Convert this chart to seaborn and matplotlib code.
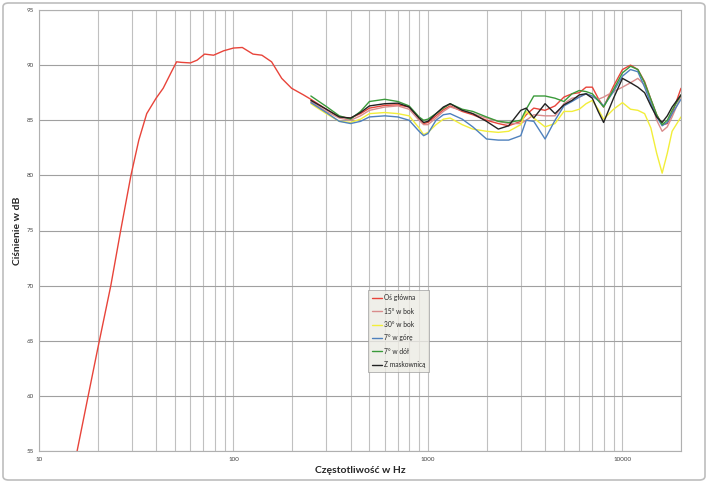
import numpy as np
import pandas as pd
import matplotlib.pyplot as plt
import seaborn as sns
from matplotlib.patches import FancyBboxPatch
from matplotlib.ticker import FixedLocator, NullFormatter

# --- dane ---
f_niskie = [15.7, 17.9, 20, 23.4, 26.3, 29.7, 32.6, 35.8, 40, 43.5, 48, 51, 54, 60, 65,
            71, 79, 89, 100, 111, 126, 140, 157, 177, 199, 229]
os_niskie = [55.0, 60.0, 64.2, 70.0, 75.0, 80.0, 83.2, 85.6, 87.0, 87.9, 89.4, 90.3, 90.25, 90.2, 90.45,
             91.0, 90.9, 91.3, 91.55, 91.6, 91.0, 90.9, 90.3, 88.8, 87.9, 87.3]

f_wspolne = [250, 300, 350, 400, 450, 500, 600, 700, 800, 900, 950, 1000, 1100, 1200, 1300,
             1500, 1700, 2000, 2300, 2600, 3000, 3200, 3500, 4000, 4500, 5000, 5500, 6000,
             6500, 7000, 7500, 8000, 9000, 10000, 11000, 12000, 13000, 14000, 15000, 16000,
             17000, 18000, 20000]

os_glowna = [86.9, 86.0, 85.3, 85.2, 85.6, 86.1, 86.35, 86.4, 86.2, 85.2, 84.7, 84.8, 85.4, 85.95, 86.3,
             85.8, 85.5, 85.0, 84.7, 84.5, 84.9, 85.5, 86.1, 85.9, 86.3, 87.1, 87.4, 87.5,
             88.0, 88.0, 87.0, 86.2, 88.1, 89.6, 90.0, 89.6, 88.5, 86.9, 85.5, 84.6,
             84.7, 85.6, 87.9]
bok_15 = [86.7, 85.8, 85.2, 85.0, 85.4, 85.9, 86.2, 86.3, 86.0, 85.0, 84.6, 84.6, 85.2, 85.8, 86.2,
          85.9, 85.6, 85.2, 84.9, 84.7, 84.7, 85.0, 85.5, 85.4, 85.4, 86.5, 87.0, 87.1,
          87.4, 87.2, 86.9, 87.1, 87.6, 88.0, 88.4, 88.8, 88.2, 86.8, 85.0, 84.0,
          84.4, 85.3, 87.2]
bok_30 = [86.5, 85.6, 84.9, 84.8, 85.1, 85.6, 85.7, 85.6, 85.4, 84.3, 83.7, 83.9, 84.6, 85.1, 85.2,
          84.6, 84.2, 84.0, 83.9, 84.0, 84.6, 85.8, 85.2, 84.4, 84.7, 85.8, 85.8, 86.0,
          86.5, 86.8, 86.0, 85.1, 86.0, 86.6, 86.0, 85.9, 85.6, 84.3, 82.0, 80.2,
          82.0, 84.0, 85.3]
gora_7 = [86.6, 85.7, 84.9, 84.7, 84.9, 85.3, 85.4, 85.3, 85.0, 84.0, 83.6, 83.8, 85.0, 85.5, 85.6,
          85.1, 84.4, 83.3, 83.2, 83.2, 83.6, 85.0, 84.9, 83.3, 85.0, 86.3, 86.7, 87.1,
          87.4, 87.2, 86.8, 86.3, 87.6, 89.0, 89.6, 89.4, 88.0, 86.5, 85.3, 84.5,
          84.8, 85.6, 86.9]
dol_7 = [87.2, 86.25, 85.4, 85.1, 85.8, 86.7, 86.9, 86.7, 86.3, 85.3, 85.0, 85.1, 85.6, 86.1, 86.5,
         86.0, 85.8, 85.3, 84.9, 84.8, 85.0, 86.0, 87.2, 87.2, 87.0, 86.7, 87.4, 87.7,
         87.6, 87.4, 86.8, 86.2, 87.8, 89.3, 89.9, 89.6, 88.4, 86.9, 85.5, 84.6,
         85.0, 85.9, 87.3]
maskownica = [86.8, 86.0, 85.3, 85.2, 85.7, 86.3, 86.5, 86.55, 86.2, 85.2, 84.8, 84.9, 85.6, 86.2, 86.5,
              85.9, 85.6, 84.9, 84.2, 84.5, 85.9, 86.1, 85.2, 86.5, 85.6, 86.4, 86.8, 87.3,
              87.4, 87.0, 85.8, 84.8, 87.0, 88.8, 88.4, 88.0, 87.5, 86.3, 85.3, 84.8,
              85.4, 86.2, 87.3]

serie = ["Oś główna", "15° w bok", "30° w bok", "7° w górę", "7° w dół", "Z maskownicą"]
kolory = ["#e8443a", "#d98c8c", "#f2ee3a", "#4f81bd", "#3a9a3a", "#222222"]

wartosci = [os_niskie + os_glowna, bok_15, bok_30, gora_7, dol_7, maskownica]
czestotliwosci = [f_niskie + f_wspolne] + [f_wspolne] * 5

tabela = pd.concat(
    [pd.DataFrame({"Hz": f, "dB": v, "Seria": s})
     for f, v, s in zip(czestotliwosci, wartosci, serie)],
    ignore_index=True,
)

sns.set_style("white")
plt.rcParams["font.family"] = ["Lato", "DejaVu Sans"]

fig = plt.figure(figsize=(7.08, 4.83), dpi=100)
ax = fig.add_axes([39 / 708, 1 - 451 / 483, (681 - 39) / 708, (451 - 10) / 483])

sns.lineplot(
    data=tabela, x="Hz", y="dB", hue="Seria", hue_order=serie,
    palette=dict(zip(serie, kolory)), estimator=None, sort=False,
    linewidth=1.0, ax=ax, legend=False,
)

ax.set_xscale("log")
ax.set_xlim(10, 20000)
ax.set_ylim(55, 95)

# siatka jak w Excelu
ax.xaxis.set_major_locator(FixedLocator([10, 100, 1000, 10000]))
ax.xaxis.set_minor_locator(FixedLocator(
    [m * d for d in (10, 100, 1000) for m in range(2, 10)] + [20000]))
ax.xaxis.set_minor_formatter(NullFormatter())
ax.set_xticklabels(["10", "100", "1000", "10000"])
ax.set_yticks(range(55, 96, 5))
ax.grid(True, which="both", axis="x", color="#c0c0c0", linewidth=0.8)
ax.grid(True, which="major", axis="y", color="#a0a0a0", linewidth=0.8)
ax.tick_params(axis="both", which="both", length=0, labelsize=4.5, colors="#444444", pad=4)
for s in ax.spines.values():
    s.set_color("#b0b0b0")
    s.set_linewidth(0.8)

ax.set_xlabel("Częstotliwość w Hz", fontsize=7.5, fontweight="bold", labelpad=3)
ax.set_ylabel("Ciśnienie w dB", fontsize=7.5, fontweight="bold", labelpad=3)

leg = ax.legend(
    handles=ax.get_lines()[:6], labels=serie,
    loc="upper left", bbox_to_anchor=(0.508, 0.372),
    fontsize=4.8, frameon=True, fancybox=False, handlelength=1.4,
    handletextpad=0.3, labelspacing=0.95, borderpad=0.6,
)
leg.get_frame().set_facecolor("#ecebe4")
leg.get_frame().set_edgecolor("#999999")
leg.get_frame().set_linewidth(0.6)

# ramka wykresu
fig.patches.append(FancyBboxPatch(
    (3 / 708, 3 / 483), 702 / 708, 477 / 483, boxstyle="round,pad=0,rounding_size=0.008",
    transform=fig.transFigure, fill=False, edgecolor="#bdbdbd", linewidth=1.2))

fig.savefig("out.png", dpi=100)
